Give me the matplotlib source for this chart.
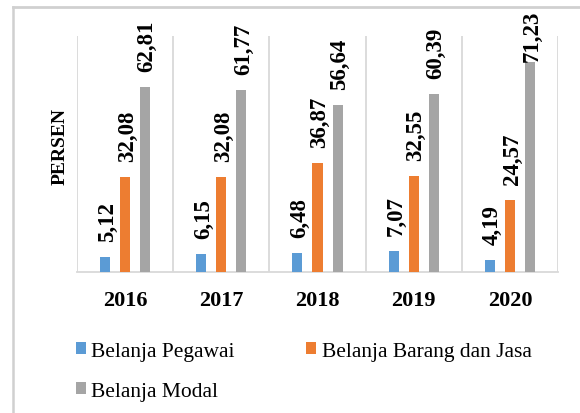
import numpy as np
import matplotlib.pyplot as plt
from matplotlib.patches import Patch

plt.rcParams['font.family'] = ['Liberation Serif', 'DejaVu Serif']

years = ["2016", "2017", "2018", "2019", "2020"]
series_names = ["Belanja Pegawai", "Belanja Barang dan Jasa", "Belanja Modal"]
pegawai = [5.12, 6.15, 6.48, 7.07, 4.19]
barang_jasa = [32.08, 32.08, 36.87, 32.55, 24.57]
modal = [62.81, 61.77, 56.64, 60.39, 71.23]
colors = ["#5B9BD5", "#ED7D31", "#A5A5A5"]

W, H = 580, 414
fig = plt.figure(figsize=(W / 100, H / 100), dpi=100)

# overlay in pixel coordinates for the outer chart frame
# (only its top and left edges fall inside the image)
bg = fig.add_axes([0, 0, 1, 1], zorder=-1)
bg.set_xlim(0, W)
bg.set_ylim(H, 0)
bg.axis("off")
bg.plot([12.5, 12.5], [H + 5, 8], color="#d0d0d0", linewidth=1.8, clip_on=False)
bg.plot([12.5, W + 5], [8, 8], color="#d0d0d0", linewidth=2.0, clip_on=False)

ax_top_px, ax_bot_px = 37, 273
ax = fig.add_axes([77 / W, 1 - ax_bot_px / H, 481 / W, (ax_bot_px - ax_top_px) / H])
ax.patch.set_visible(False)
ymax = 80
px_per_unit = (ax_bot_px - ax_top_px) / ymax

x = np.arange(len(years))
width = 0.104
offsets = [-0.208, 0.0, 0.208]
label_len_px = 48   # rotated label length
chart_top_px = 15   # labels are kept below this line
for vals, off, col, name in zip([pegawai, barang_jasa, modal], offsets, colors, series_names):
    bars = ax.bar(x + off, vals, width, color=col, label=name, zorder=3)
    for b, v in zip(bars, vals):
        # like Excel: pull the label down if it would leave the chart area
        room_px = (ax_bot_px - v * px_per_unit) - chart_top_px - label_len_px
        gap_px = max(1, min(16, room_px))
        ax.annotate(f"{v:.2f}".replace(".", ","),
                    (b.get_x() + b.get_width() / 2, b.get_height()),
                    xytext=(1.5, gap_px * 0.72), textcoords="offset points",
                    rotation=90, ha="center", va="bottom",
                    fontsize=16.5, fontweight="bold")

ax.set_xlim(-0.5, len(years) - 0.5)
ax.set_ylim(0, ymax)
for xb in np.arange(-0.5, len(years), 1.0):
    ax.axvline(xb, color="#d9d9d9", linewidth=1.3, zorder=1)

for s in ["top", "right", "left"]:
    ax.spines[s].set_visible(False)
ax.spines["bottom"].set_color("#d9d9d9")
ax.spines["bottom"].set_linewidth(1.3)
ax.set_yticks([])
ax.set_xticks(x)
ax.set_xticklabels(years, fontsize=16, fontweight="bold")
ax.tick_params(axis="x", length=0, pad=13)
ax.set_ylabel("PERSEN", fontsize=14, fontweight="bold")
ax.yaxis.set_label_coords(-0.0165, 0.535)

# legend filled column-wise, so order items to read row by row
order = [0, 2, 1]
handles = [Patch(facecolor=colors[i]) for i in order]
labels = [series_names[i] for i in order]
fig.legend(handles, labels, loc="upper left",
           bbox_to_anchor=(67 / W, 1 - 334 / H), ncol=2, frameon=False,
           fontsize=15.5, handlelength=0.48, handleheight=0.48,
           handletextpad=0.25, columnspacing=3.3, labelspacing=1.0,
           borderaxespad=0)

fig.savefig("out.png", dpi=100)
